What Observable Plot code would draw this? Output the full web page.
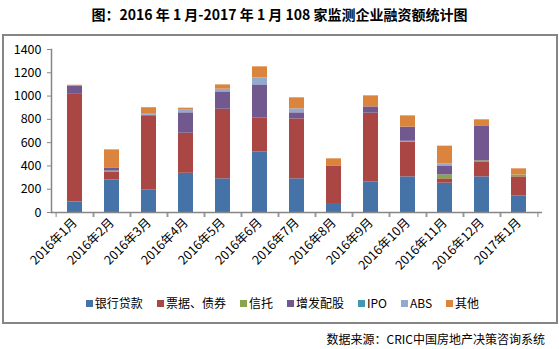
<!DOCTYPE html>
<html><head><meta charset="utf-8">
<script src="https://cdn.jsdelivr.net/npm/d3@7"></script>
<script src="https://cdn.jsdelivr.net/npm/@observablehq/plot@0.6"></script>
<style>
body{margin:0;background:#fff;font-family:"Noto Sans CJK SC",sans-serif;}
#page{position:relative;width:559px;height:349px;overflow:hidden;}
#title{position:absolute;top:4px;left:0;width:559px;text-align:center;font-size:14px;font-weight:bold;line-height:20px;color:#000;}
#box{position:absolute;left:2px;top:34px;width:556px;height:290px;box-sizing:border-box;border:2px solid #868686;pointer-events:none;}
#chart{position:absolute;left:0;top:35px;}
#legend{position:absolute;top:295px;left:0;width:559px;padding-left:6px;box-sizing:border-box;display:flex;justify-content:center;font-size:12px;line-height:16px;color:#000;}
.item{display:flex;align-items:center;margin:0 7px;}
.sw{width:7px;height:7px;margin-right:2px;}
#caption{position:absolute;right:14px;top:331px;font-size:12px;line-height:16px;color:#000;}
</style></head>
<body>
<div id="page">
  <div id="title">图：2016 年 1 月-2017 年 1 月 108 家监测企业融资额统计图</div>
  <div id="chart"></div>
  <div id="legend"></div>
  <div id="box"></div>
  <div id="caption">数据来源：CRIC中国房地产决策咨询系统</div>
</div>
<script>
const months = ["2016年1月","2016年2月","2016年3月","2016年4月","2016年5月","2016年6月","2016年7月","2016年8月","2016年9月","2016年10月","2016年11月","2016年12月","2017年1月"];
const seriesNames = ["银行贷款","票据、债券","信托","增发配股","IPO","ABS","其他"];
const seriesColors = ["#4572A7","#AA4643","#89A54E","#71588F","#4198AF","#93A9CF","#DB843D"];
const bank      = [90, 280, 195, 337, 289, 521, 289, 77, 263, 306, 252, 306, 143];
const bills     = [925, 68, 635, 344, 598, 292, 515, 323, 590, 298, 37, 129, 163];
const trust     = [0, 8, 0, 0, 0, 0, 0, 0, 0, 8, 34, 8, 17];
const placement = [70, 27, 5, 175, 149, 283, 52, 0, 54, 121, 77, 301, 0];
const ipo       = [0, 0, 0, 0, 0, 0, 0, 0, 0, 0, 0, 0, 0];
const abs       = [0, 0, 15, 23, 23, 60, 34, 0, 0, 0, 18, 0, 0];
const other     = [8, 155, 50, 17, 37, 95, 95, 61, 95, 97, 152, 52, 52];
const yTicks = [0, 200, 400, 600, 800, 1000, 1200, 1400];

const seriesValues = [bank, bills, trust, placement, ipo, abs, other];
const data = [];
seriesNames.forEach((s, i) => months.forEach((m, j) => data.push({month: m, series: s, value: seriesValues[i][j]})));

const W = 559, H = 255, ML = 51, MR = 17, MT = 14, MB = 78;
const step = (W - ML - MR) / months.length;
const axisColor = "#868686";

const chart = Plot.plot({
  width: W, height: H,
  marginLeft: ML, marginRight: MR, marginTop: MT, marginBottom: MB,
  style: {fontFamily: "Noto Sans CJK SC", fontSize: "12.5px", color: "#000", background: "transparent"},
  x: {domain: months, paddingInner: 0.6, paddingOuter: 0.3, label: null},
  y: {domain: [0, 1400], label: null},
  color: {domain: seriesNames, range: seriesColors},
  marks: [
    Plot.barY(data, {x: "month", y: "value", fill: "series", z: "series"}),
    Plot.axisY({ticks: yTicks, tickFormat: d => String(d), tickSize: 4, tickPadding: 6, stroke: axisColor, fill: "#000", label: null}),
    Plot.frame({anchor: "left", stroke: axisColor, strokeWidth: 1.5}),
    Plot.ruleY([0], {stroke: axisColor, strokeWidth: 1.5}),
    Plot.axisX({tickSize: 5, tickFormat: () => "", dx: -step / 2, stroke: axisColor, label: null}),
    Plot.axisX({tickSize: 5, tickFormat: () => "", dx: step / 2, stroke: axisColor, label: null}),
    Plot.axisX({tickSize: 0, tickPadding: 8, tickRotate: -45, fill: "#000", label: null})
  ]
});
document.getElementById("chart").appendChild(chart);

const legend = document.getElementById("legend");
seriesNames.forEach((s, i) => {
  const it = document.createElement("div"); it.className = "item";
  const sw = document.createElement("span"); sw.className = "sw"; sw.style.background = seriesColors[i];
  const t = document.createElement("span"); t.textContent = s;
  it.appendChild(sw); it.appendChild(t); legend.appendChild(it);
});
</script>
</body></html>
